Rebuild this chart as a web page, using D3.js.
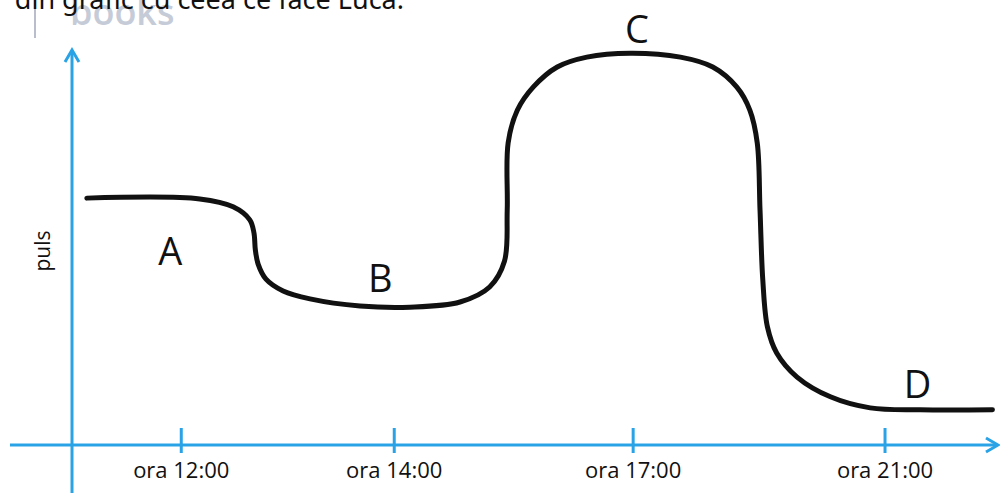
<!DOCTYPE html>
<html>
<head>
<meta charset="utf-8">
<script src="https://cdn.jsdelivr.net/npm/d3@7"></script>
<style>
    html, body { margin: 0; padding: 0; background: #fff; }
    svg { display: block; }
</style>
</head>
<body>
<div id="chart"></div>
<script>
// schematic units: x = time of day (arbitrary), y = pulse (arbitrary)
var curveX = [1.6, 13.8, 17.4, 19.2, 19.65, 19.8, 20.1, 20.95, 22.8, 25.7, 31.1, 36.5, 41.9, 45.1, 46.7,
    47.0, 47.1, 48.1, 49.8, 52.4, 55.6, 60.3, 65.7, 69.2, 71.8, 73.2, 74.0, 74.3,
    74.6, 75.1, 76.1, 78.3, 81.9, 86.2, 91.6, 99.4];
var curveY = [62.5, 62.3, 60.3, 57.0, 53.7, 49.4, 45.8, 42.0, 39.0, 37.0, 35.2, 34.9, 36.2, 40.0, 46.5,
    59.5, 76.5, 84.8, 90.6, 95.7, 98.2, 99.2, 98.2, 95.7, 90.6, 84.8, 76.5, 59.5,
    41.8, 29.9, 23.3, 17.2, 12.2, 9.4, 8.9, 8.9];

var tickLabels = ["ora 12:00", "ora 14:00", "ora 17:00", "ora 21:00"];
var tickValues = [11.8, 34.8, 60.6, 87.8];

var phaseLabels = ["A", "B", "C", "D"];
var phaseX = [10.6, 33.3, 61.0, 91.3];
var phaseY = [45.6, 38.7, 101.8, 11.9];

var yTitle = "puls";
var captionText = "din grafic cu ceea ce face Luca.";
var watermarkText = "books";

var width = 1000,
    height = 493,
    axisColor = "#2aa3e6";

var svg = d3.select("#chart")
    .append("svg")
    .attr("width", width)
    .attr("height", height);

var x = d3.scaleLinear().domain([0, 100]).range([72, 998]);
var y = d3.scaleLinear().domain([0, 100]).range([445, 50]);

// scanned page remnants at the top
svg.append("line")
    .attr("x1", 35).attr("x2", 35)
    .attr("y1", 0).attr("y2", 38)
    .attr("stroke", "#b9bdcc")
    .attr("stroke-width", 2);

svg.append("text")
    .attr("x", 70)
    .attr("y", 25)
    .attr("font-family", "Open Sans")
    .attr("font-size", 36)
    .attr("font-weight", 600)
    .attr("fill", "#c6cbd8")
    .text(watermarkText);

svg.append("text")
    .attr("x", 404)
    .attr("y", 9)
    .attr("text-anchor", "end")
    .attr("font-family", "Noto Sans")
    .attr("font-size", 27)
    .attr("fill", "#111")
    .text(captionText);

// axes
var axes = svg.append("g")
    .attr("stroke", axisColor)
    .attr("stroke-width", 3)
    .attr("fill", "none");

axes.append("line")
    .attr("x1", x(0)).attr("x2", x(0))
    .attr("y1", height).attr("y2", y(100) + 1);

axes.append("line")
    .attr("x1", x(0) - 62).attr("x2", x(100) - 1)
    .attr("y1", y(0)).attr("y2", y(0));

axes.append("path")
    .attr("stroke-linejoin", "miter")
    .attr("d", "M" + (x(0) - 7) + "," + (y(100) + 12) + "L" + x(0) + "," + y(100) + "L" + (x(0) + 7) + "," + (y(100) + 12));

axes.append("path")
    .attr("stroke-linejoin", "miter")
    .attr("d", "M" + (x(100) - 12) + "," + (y(0) - 7) + "L" + x(100) + "," + y(0) + "L" + (x(100) - 12) + "," + (y(0) + 7));

axes.selectAll("tick")
    .data(tickValues).enter()
    .append("line")
    .attr("x1", function(d){ return x(d); })
    .attr("x2", function(d){ return x(d); })
    .attr("y1", y(0) - 17)
    .attr("y2", y(0) + 8);

svg.append("g")
    .selectAll("tickLabels")
    .data(tickLabels).enter()
    .append("text")
    .attr("x", function(d, i){ return x(tickValues[i]); })
    .attr("y", y(0) + 33)
    .attr("text-anchor", "middle")
    .attr("font-family", "Open Sans")
    .attr("font-size", 22)
    .attr("fill", "#111")
    .text(function(d){ return d; });

svg.append("text")
    .attr("transform", "translate(" + (x(0) - 22) + "," + 251 + ") rotate(-90)")
    .attr("text-anchor", "middle")
    .attr("font-family", "Open Sans")
    .attr("font-size", 21)
    .attr("fill", "#111")
    .text(yTitle);

// pulse curve
var points = curveX.map(function(d, i){ return [d, curveY[i]]; });

var line = d3.line()
    .x(function(d){ return x(d[0]); })
    .y(function(d){ return y(d[1]); })
    .curve(d3.curveCatmullRom.alpha(0.5));

svg.append("path")
    .datum(points)
    .attr("d", line)
    .attr("fill", "none")
    .attr("stroke", "#111")
    .attr("stroke-width", 5)
    .attr("stroke-linecap", "round");

svg.append("g")
    .selectAll("phaseLabels")
    .data(phaseLabels).enter()
    .append("text")
    .attr("x", function(d, i){ return x(phaseX[i]); })
    .attr("y", function(d, i){ return y(phaseY[i]); })
    .attr("text-anchor", "middle")
    .attr("font-family", "Open Sans")
    .attr("font-size", 38)
    .attr("fill", "#111")
    .text(function(d){ return d; });
</script>
</body>
</html>
